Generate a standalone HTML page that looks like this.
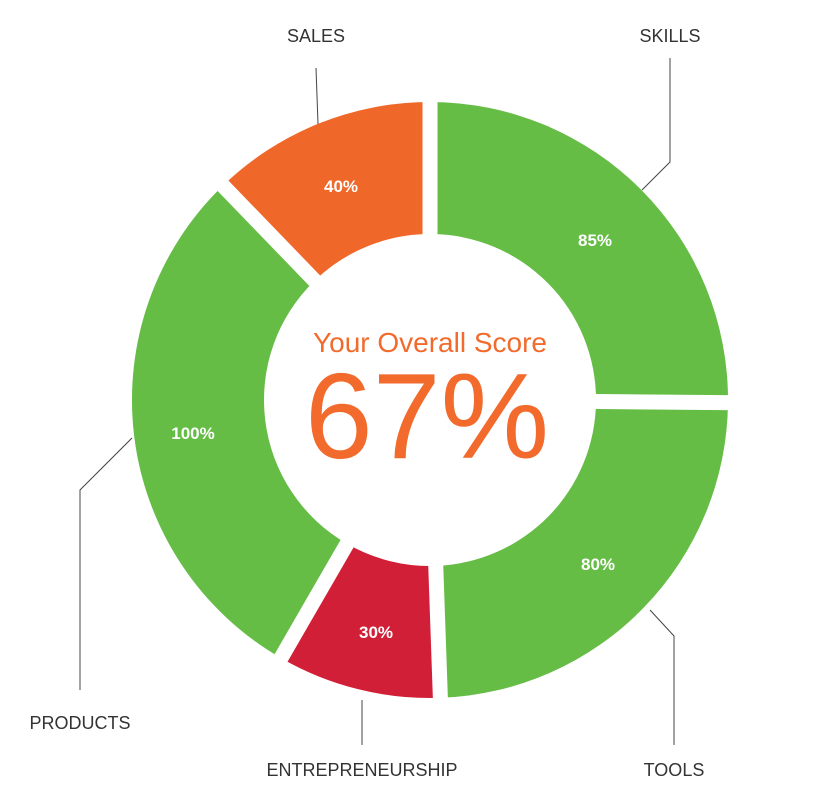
<!DOCTYPE html>
<html><head><meta charset="utf-8"><style>
html,body{margin:0;padding:0;background:#fff;}
svg{display:block;font-family:"Liberation Sans",Arial,sans-serif;}
</style></head><body>
<svg width="824" height="804" viewBox="0 0 824 804" xmlns="http://www.w3.org/2000/svg">
<path fill="#66bd46" d="M430,102 A298,298 0 0 1 728,402.6 L596,401.4 A166,166 0 0 0 430,234 Z"/>
<path fill="#66bd46" d="M728,402.6 A298,298 0 0 1 440.4,697.8 L435.8,565.9 A166,166 0 0 0 596,401.4 Z"/>
<path fill="#d21f38" d="M440.4,697.8 A298,298 0 0 1 281,658.1 L347,543.8 A166,166 0 0 0 435.8,565.9 Z"/>
<path fill="#66bd46" d="M281,658.1 A298,298 0 0 1 223,185.6 L314.7,280.6 A166,166 0 0 0 347,543.8 Z"/>
<path fill="#f0672a" d="M223,185.6 A298,298 0 0 1 430,102 L430,234 A166,166 0 0 0 314.7,280.6 Z"/>
<g stroke="#fff" stroke-width="15">
<line x1="430" y1="244" x2="430" y2="92"/>
<line x1="586" y1="401.4" x2="738" y2="402.7"/>
<line x1="435.4" y1="555.9" x2="440.7" y2="707.8"/>
<line x1="352" y1="535.1" x2="276" y2="666.7"/>
<line x1="321.6" y1="287.8" x2="216" y2="178.5"/>
</g>
<g stroke="#444" stroke-width="1" fill="none">
<polyline points="316,68 318,124"/>
<polyline points="670,58 670,162 642,190"/>
<polyline points="80,690 80,490 132,438"/>
<polyline points="362,745 362,700"/>
<polyline points="674,745 674,636 650,610"/>
</g>
<g fill="#333" font-size="18" text-anchor="middle">
<text x="316" y="42">SALES</text>
<text x="670" y="42">SKILLS</text>
<text x="80" y="729">PRODUCTS</text>
<text x="362" y="776">ENTREPRENEURSHIP</text>
<text x="674" y="776">TOOLS</text>
</g>
<g fill="#fff" font-size="17" font-weight="bold" text-anchor="middle">
<text x="341" y="192">40%</text>
<text x="595" y="246">85%</text>
<text x="193" y="439">100%</text>
<text x="598" y="570">80%</text>
<text x="376" y="638">30%</text>
</g>
<text x="430" y="352" fill="#f26a2c" font-size="28" text-anchor="middle">Your Overall Score</text>
<text x="427" y="458" fill="#f26a2c" font-size="122" text-anchor="middle">67%</text>
</svg>
</body></html>
